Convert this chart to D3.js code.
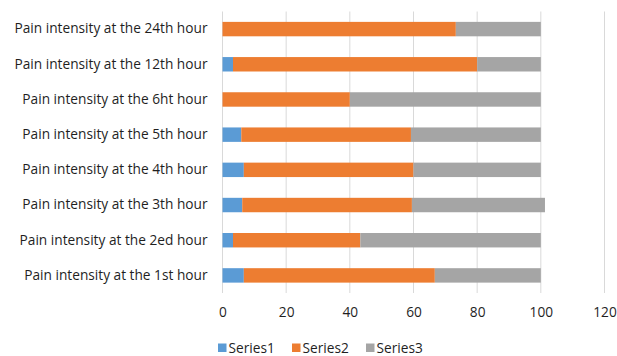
<!DOCTYPE html>
<html>
<head>
<meta charset="utf-8">
<script src="https://cdn.jsdelivr.net/npm/d3@7"></script>
<style>
  html, body { margin: 0; padding: 0; background: #fff; }
  svg text { font-family: "Open Sans", "Noto Sans", sans-serif; fill: #1f1f1f; }
</style>
</head>
<body>
<svg id="chart" width="617" height="356"></svg>
<script>
// Categories, listed bottom to top as they appear on the axis
const categories = [
  "Pain intensity at the 1st hour",
  "Pain intensity at the 2ed hour",
  "Pain intensity at the 3th hour",
  "Pain intensity at the 4th hour",
  "Pain intensity at the 5th hour",
  "Pain intensity at the 6ht hour",
  "Pain intensity at the 12th hour",
  "Pain intensity at the 24th hour"
];
const seriesNames = ["Series1", "Series2", "Series3"];
const series1 = [6.7, 3.3, 6.2, 6.7, 5.9, 0, 3.3, 0];
const series2 = [60, 40, 53.3, 53.3, 53.3, 40, 76.7, 73.3];
const series3 = [33.3, 56.7, 41.8, 40, 40.8, 60, 20, 26.7];
const xTicks = [0, 20, 40, 60, 80, 100, 120];
const colors = ["#5B9BD5", "#ED7D31", "#A5A5A5"];

const svg = d3.select("#chart");
const margin = { left: 222.5, right: 12.5, top: 11.5, bottom: 63 };
const W = 617, H = 356;
const fontSize = "13.7px";

const x = d3.scaleLinear().domain([0, 120]).range([margin.left, W - margin.right]);
const y = d3.scaleBand()
  .domain(categories.slice().reverse())
  .range([margin.top, H - margin.bottom])
  .paddingInner(0.59)
  .paddingOuter(0.295);

// Vertical gridlines
svg.append("g")
  .selectAll("line")
  .data(xTicks)
  .join("line")
  .attr("x1", d => x(d)).attr("x2", d => x(d))
  .attr("y1", margin.top).attr("y2", H - margin.bottom)
  .attr("stroke", "#D9D9D9")
  .attr("stroke-width", 1);

// Stacked bars
const rows = categories.map((c, i) => ({
  cat: c, Series1: series1[i], Series2: series2[i], Series3: series3[i]
}));
const stacked = d3.stack().keys(seriesNames)(rows);

svg.append("g")
  .selectAll("g")
  .data(stacked)
  .join("g")
  .attr("fill", (d, i) => colors[i])
  .selectAll("rect")
  .data(d => d)
  .join("rect")
  .attr("x", d => x(d[0]))
  .attr("width", d => Math.max(0, x(d[1]) - x(d[0])))
  .attr("y", d => y(d.data.cat))
  .attr("height", y.bandwidth());

// Category labels
const yAxis = svg.append("g")
  .attr("transform", `translate(${margin.left},0)`)
  .call(d3.axisLeft(y).tickSize(0).tickPadding(15));
yAxis.select(".domain").remove();
yAxis.selectAll("text")
  .style("font-size", fontSize)
  .style("font-family", "'Open Sans', 'Noto Sans', sans-serif")
  .attr("fill", "#1f1f1f");

// Value axis labels
const xAxis = svg.append("g")
  .attr("transform", `translate(0,${H - margin.bottom})`)
  .call(d3.axisBottom(x).tickValues(xTicks).tickSize(0).tickPadding(14));
xAxis.select(".domain").remove();
xAxis.selectAll("text")
  .style("font-size", fontSize)
  .style("font-family", "'Open Sans', 'Noto Sans', sans-serif")
  .attr("fill", "#1f1f1f");

// Legend
const legendX = [218, 292, 366];
const legend = svg.append("g")
  .selectAll("g")
  .data(seriesNames)
  .join("g")
  .attr("transform", (d, i) => `translate(${legendX[i]},348)`);
legend.append("rect")
  .attr("x", 0).attr("y", -4.5)
  .attr("width", 8.5).attr("height", 8.5)
  .attr("fill", (d, i) => colors[i]);
legend.append("text")
  .attr("x", 10.5).attr("y", 0)
  .attr("dy", "0.35em")
  .style("font-size", fontSize)
  .text(d => d);
</script>
</body>
</html>
